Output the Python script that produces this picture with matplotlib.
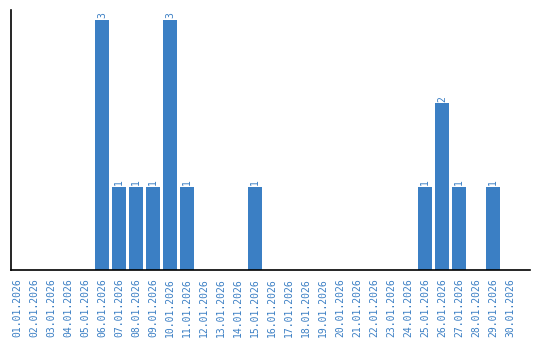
import numpy as np
import matplotlib
matplotlib.use('Agg')
import matplotlib.pyplot as plt

dates = ['%02d.01.2026' % d for d in range(1, 31)]
counts = [0, 0, 0, 0, 0, 3, 1, 1, 1, 3, 1, 0, 0, 0, 1,
          0, 0, 0, 0, 0, 0, 0, 0, 0, 1, 2, 1, 0, 1, 0]

blue = '#3b7fc4'

fig = plt.figure(figsize=(5.4, 3.4), dpi=100)
ax = fig.add_axes([11/540, 70/340, 519/540, 260/340])

x = np.arange(len(dates))
ax.bar(x, counts, width=0.82, color=blue)
for i, c in enumerate(counts):
	if c > 0:
		ax.text(i, c + 0.02, str(c), rotation=90, ha='center', va='bottom',
			color=blue, fontsize=7, family='DejaVu Sans Mono')

ax.set_xlim(-0.35, len(dates) - 1 + 1.18)
ax.set_ylim(0, 3.12)
ax.set_xticks(x)
ax.set_xticklabels(dates, rotation=90, color=blue, fontsize=7, family='DejaVu Sans Mono')
ax.tick_params(axis='x', length=0, pad=6)
ax.set_yticks([])
ax.spines['top'].set_visible(False)
ax.spines['right'].set_visible(False)
ax.spines['left'].set_linewidth(1.2)
ax.spines['bottom'].set_linewidth(1.2)

fig.savefig('out.png', dpi=100)
